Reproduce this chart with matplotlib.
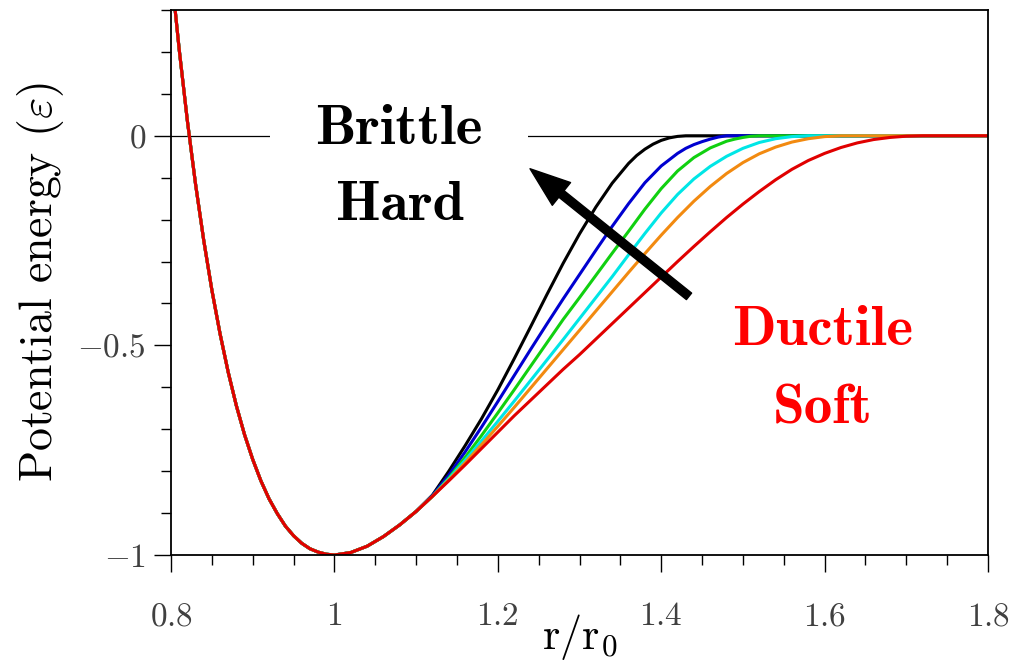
import matplotlib
matplotlib.use("Agg")
import matplotlib.pyplot as plt
from matplotlib.ticker import MultipleLocator, FuncFormatter

plt.rcParams['mathtext.fontset'] = 'cm'
plt.rcParams['font.family'] = 'cmr10'
plt.rcParams['axes.formatter.use_mathtext'] = True

# shared repulsive wall + well (all curves identical here)
r_wall = [0.80, 0.81, 0.82, 0.83, 0.84, 0.85, 0.86, 0.87, 0.88, 0.89, 0.90,
          0.91, 0.92, 0.93, 0.94, 0.95, 0.96, 0.97, 0.98, 0.99, 1.00,
          1.02, 1.04, 1.06, 1.08, 1.10]
v_wall = [0.396, 0.206, 0.036, -0.115, -0.249, -0.368, -0.472, -0.564, -0.644, -0.713, -0.772,
          -0.823, -0.866, -0.901, -0.931, -0.954, -0.972, -0.985, -0.993, -0.998, -1.000,
          -0.994, -0.979, -0.956, -0.928, -0.896]

# tails after the curves split
r_black = [1.12, 1.14, 1.16, 1.18, 1.20, 1.22, 1.24, 1.26, 1.28, 1.30, 1.32, 1.34,
           1.36, 1.37, 1.38, 1.39, 1.40, 1.41, 1.42, 1.43, 1.80]
v_black = [-0.857, -0.800, -0.739, -0.675, -0.606, -0.532, -0.456, -0.379, -0.304, -0.234,
           -0.170, -0.113, -0.066, -0.047, -0.032, -0.020, -0.011, -0.005, -0.0015, 0.0, 0.0]

r_blue = [1.12, 1.14, 1.16, 1.18, 1.20, 1.22, 1.24, 1.26, 1.28, 1.30, 1.32, 1.34,
          1.36, 1.38, 1.40, 1.42, 1.43, 1.44, 1.45, 1.46, 1.47, 1.48, 1.80]
v_blue = [-0.858, -0.809, -0.754, -0.695, -0.634, -0.572, -0.510, -0.449, -0.389, -0.331,
          -0.273, -0.216, -0.162, -0.112, -0.072, -0.042, -0.030, -0.021, -0.014, -0.008,
          -0.003, 0.0, 0.0]

r_green = [1.12, 1.14, 1.16, 1.18, 1.20, 1.22, 1.24, 1.26, 1.28, 1.30, 1.32, 1.34,
           1.36, 1.38, 1.40, 1.42, 1.44, 1.46, 1.48, 1.49, 1.50, 1.51, 1.52, 1.80]
v_green = [-0.860, -0.816, -0.767, -0.715, -0.661, -0.606, -0.550, -0.494, -0.438, -0.386,
           -0.333, -0.280, -0.228, -0.175, -0.126, -0.084, -0.052, -0.029, -0.013, -0.008,
           -0.004, -0.001, 0.0, 0.0]

r_cyan = [1.12, 1.14, 1.16, 1.18, 1.20, 1.22, 1.24, 1.26, 1.28, 1.30, 1.32, 1.34,
          1.36, 1.38, 1.40, 1.42, 1.44, 1.46, 1.48, 1.50, 1.52, 1.54, 1.56, 1.58, 1.80]
v_cyan = [-0.860, -0.818, -0.774, -0.728, -0.681, -0.633, -0.584, -0.535, -0.486, -0.436,
          -0.386, -0.336, -0.284, -0.233, -0.184, -0.140, -0.103, -0.073, -0.049, -0.030,
          -0.016, -0.007, -0.002, 0.0, 0.0]

r_orange = [1.12, 1.14, 1.16, 1.18, 1.20, 1.22, 1.24, 1.26, 1.28, 1.30, 1.32, 1.34,
            1.36, 1.38, 1.40, 1.42, 1.44, 1.46, 1.48, 1.50, 1.52, 1.54, 1.56, 1.58,
            1.60, 1.62, 1.80]
v_orange = [-0.860, -0.821, -0.780, -0.737, -0.693, -0.648, -0.602, -0.556, -0.510, -0.464,
            -0.418, -0.372, -0.326, -0.281, -0.237, -0.195, -0.156, -0.121, -0.090, -0.064,
            -0.043, -0.027, -0.015, -0.007, -0.002, 0.0, 0.0]

r_red = [1.12, 1.14, 1.16, 1.18, 1.20, 1.22, 1.24, 1.26, 1.28, 1.30, 1.32, 1.34,
         1.36, 1.38, 1.40, 1.42, 1.44, 1.46, 1.48, 1.50, 1.52, 1.54, 1.56, 1.58,
         1.60, 1.62, 1.64, 1.66, 1.68, 1.70, 1.72, 1.80]
v_red = [-0.860, -0.823, -0.785, -0.746, -0.707, -0.668, -0.631, -0.594, -0.557, -0.522,
         -0.485, -0.448, -0.411, -0.374, -0.337, -0.300, -0.264, -0.229, -0.195, -0.163,
         -0.133, -0.105, -0.080, -0.059, -0.042, -0.028, -0.017, -0.009, -0.004, -0.001,
         0.0, 0.0]

curves = [(r_black, v_black, 'black'),
          (r_blue, v_blue, '#0000d0'),
          (r_green, v_green, '#10d010'),
          (r_cyan, v_cyan, '#00e6e6'),
          (r_orange, v_orange, '#f28a10'),
          (r_red, v_red, '#e00000')]

fig = plt.figure(figsize=(10.29, 6.62), dpi=100)
ax = fig.add_axes([0.1662, 0.1616, 0.794, 0.8233])

ax.axhline(0, color='k', lw=0.9, zorder=1)

for rr, vv, col in curves:
    ax.plot(r_wall + rr, v_wall + vv, color=col, lw=2.2, zorder=2,
            solid_joinstyle='round')

ax.set_xlim(0.8, 1.8)
ax.set_ylim(-1, 0.3)

ax.xaxis.set_major_locator(MultipleLocator(0.2))
ax.xaxis.set_minor_locator(MultipleLocator(0.05))
ax.yaxis.set_major_locator(MultipleLocator(0.5))
ax.yaxis.set_minor_locator(MultipleLocator(0.1))
fmt = FuncFormatter(lambda v, p: '$%g$' % round(v, 3))
ax.xaxis.set_major_formatter(fmt)
ax.yaxis.set_major_formatter(fmt)

ax.tick_params(which='both', direction='out', top=False, right=False,
               width=1.0, labelcolor='#404040', labelsize=24)
ax.tick_params(which='major', length=12)
ax.tick_params(which='minor', length=7)
ax.tick_params(axis='x', pad=22)
ax.tick_params(axis='y', pad=6)
for s in ax.spines.values():
    s.set_linewidth(1.3)

ax.set_xlabel(r'$\mathrm{r/r_0}$', fontsize=32, labelpad=-14)
ax.set_ylabel(r'Potential energy ($\varepsilon$)', fontsize=33, labelpad=8)

ax.text(1.079, -0.019, 'Brittle', family='cmb10', fontsize=41, ha='center',
        va='baseline', zorder=3,
        bbox=dict(boxstyle='square,pad=0.8', fc='white', ec='none'))
ax.text(1.080, -0.202, 'Hard', family='cmb10', fontsize=41, ha='center',
        va='baseline', zorder=4)
ax.text(1.597, -0.50, 'Ductile', family='cmb10', fontsize=41, ha='center',
        va='baseline', color='#ff0000', zorder=4)
ax.text(1.597, -0.686, 'Soft', family='cmb10', fontsize=41, ha='center',
        va='baseline', color='#ff0000', zorder=4)

ax.annotate('', xy=(1.2394, -0.0786), xytext=(1.434, -0.383),
            arrowprops=dict(width=6, headwidth=21, headlength=29, color='k',
                            shrink=0), zorder=5)

fig.savefig('out.png', dpi=100)
